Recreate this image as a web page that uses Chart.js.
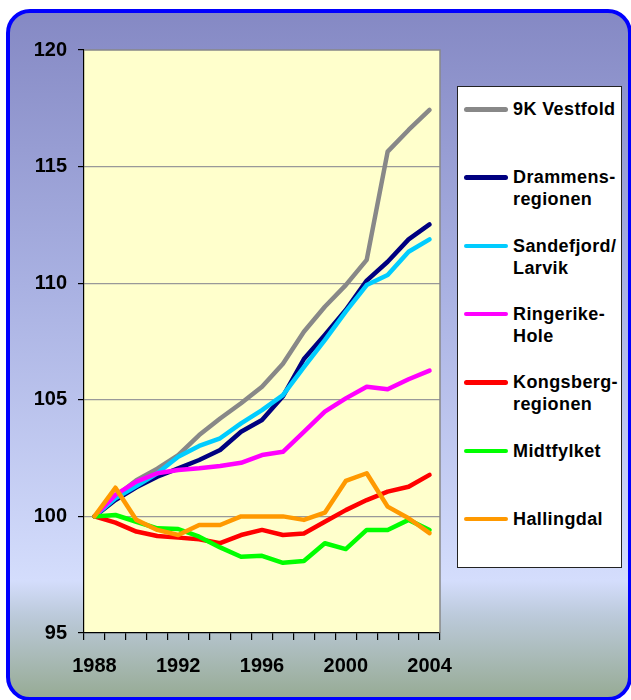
<!DOCTYPE html>
<html>
<head>
<meta charset="utf-8">
<script src="https://cdn.jsdelivr.net/npm/chart.js@4/dist/chart.umd.min.js"></script>
<style>
  html, body { margin: 0; padding: 0; background: #ffffff; }
  #wrap { position: relative; width: 631px; height: 700px; overflow: hidden; }
  #frame {
    position: absolute; left: 6px; top: 9px; width: 618px; height: 684px;
    border: 4px solid #0000ff; border-radius: 24px;
    background: linear-gradient(to bottom, #8589c4 0%, #a9b1e2 40%, #d4ddfc 83%, #bccadb 88%, #97ab95 100%);
  }
  #c { position: absolute; left: 0; top: 0; }
  #legend {
    position: absolute; left: 457px; top: 86px; width: 163px; height: 480px;
    background: #ffffff; border: 1.5px solid #222222; box-sizing: content-box;
    font-family: "Liberation Sans", Arial, sans-serif; font-weight: bold; font-size: 18px;
    letter-spacing: 0.4px; color: #000;
  }
  .item { position: absolute; left: 0; width: 163px; height: 44px; }
  .swatch { position: absolute; left: 6px; top: 9px; width: 44px; height: 4.5px; border-radius: 3px; }
  .lbl { position: absolute; left: 55px; top: 0; line-height: 22px; white-space: pre; }
</style>
</head>
<body>
<div id="wrap">
  <div id="frame"></div>
  <canvas id="c" width="631" height="700"></canvas>
  <div id="legend"></div>
</div>
<script>
// ---- data ----
const years = ['1988','1989','1990','1991','1992','1993','1994','1995','1996','1997','1998','1999','2000','2001','2002','2003','2004'];
const xTickLabels = ['1988','1992','1996','2000','2004'];
const yTicks = [95, 100, 105, 110, 115, 120];

const seriesNames = ['9K Vestfold', 'Drammens-\nregionen', 'Sandefjord/\nLarvik', 'Ringerike-\nHole', 'Kongsberg-\nregionen', 'Midtfylket', 'Hallingdal'];
const seriesColors = ['#888888', '#000080', '#00ccff', '#ff00ff', '#ff0000', '#00ff00', '#ff9900'];

const vestfold9K   = [100, 100.85, 101.55, 102.05, 102.63, 103.49, 104.20, 104.85, 105.56, 106.55, 107.92, 108.99, 109.92, 111.00, 115.64, 116.57, 117.43];
const drammens     = [100, 100.70, 101.25, 101.70, 102.06, 102.42, 102.85, 103.63, 104.13, 105.15, 106.75, 107.78, 108.85, 110.11, 110.92, 111.88, 112.52];
const sandefjord   = [100, 100.78, 101.30, 101.85, 102.56, 103.02, 103.35, 103.99, 104.56, 105.20, 106.40, 107.56, 108.78, 109.92, 110.35, 111.35, 111.88];
const ringerike    = [100, 100.92, 101.49, 101.85, 101.99, 102.06, 102.16, 102.30, 102.63, 102.77, 103.62, 104.49, 105.06, 105.56, 105.45, 105.88, 106.25];
const kongsberg    = [100, 99.73, 99.35, 99.16, 99.09, 99.02, 98.85, 99.20, 99.42, 99.20, 99.27, 99.77, 100.27, 100.70, 101.06, 101.27, 101.78];
const midtfylket   = [100, 100.06, 99.77, 99.49, 99.46, 99.13, 98.67, 98.27, 98.31, 98.01, 98.09, 98.85, 98.60, 99.42, 99.42, 99.85, 99.42];
const hallingdal   = [100, 101.23, 99.85, 99.42, 99.20, 99.63, 99.63, 100.00, 100.00, 100.00, 99.85, 100.16, 101.52, 101.85, 100.42, 99.92, 99.28];

const seriesValues = [vestfold9K, drammens, sandefjord, ringerike, kongsberg, midtfylket, hallingdal];

// ---- chart ----
const FONT = '"Liberation Sans", Arial, sans-serif';

const plotBg = {
  id: 'plotBg',
  beforeDatasetsDraw(chart) {},
  beforeDraw(chart) {
    const a = chart.chartArea, ctx = chart.ctx;
    ctx.save();
    ctx.fillStyle = '#ffffcc';
    ctx.fillRect(a.left, a.top, a.right - a.left, a.bottom - a.top);
    ctx.restore();
  },
  afterDraw(chart) {
    const a = chart.chartArea, ctx = chart.ctx;
    ctx.save();
    ctx.strokeStyle = '#888888';
    ctx.lineWidth = 1.5;
    ctx.beginPath();
    ctx.moveTo(a.left, a.top);
    ctx.lineTo(a.right, a.top);
    ctx.lineTo(a.right, a.bottom);
    ctx.stroke();
    ctx.restore();
  }
};

const datasets = seriesNames.map((name, i) => ({
  label: name.replace('\n', ''),
  data: seriesValues[i],
  borderColor: seriesColors[i],
  backgroundColor: seriesColors[i],
  borderWidth: 4.5,
  pointRadius: 0,
  tension: 0,
  fill: false,
  borderCapStyle: 'round',
  borderJoinStyle: 'round',
  order: seriesNames.length - i
}));

new Chart(document.getElementById('c'), {
  type: 'line',
  data: { labels: years, datasets },
  plugins: [plotBg],
  options: {
    responsive: false,
    animation: false,
    layout: { padding: { left: 0, right: 191, top: 50, bottom: 0 } },
    plugins: { legend: { display: false }, tooltip: { enabled: false } },
    scales: {
      x: {
        type: 'category',
        offset: true,
        afterFit(scale) { scale.height = 67; },
        grid: {
          offset: true,
          drawOnChartArea: false,
          drawTicks: true,
          tickLength: 7,
          tickColor: '#000000',
          lineWidth: 1.2
        },
        border: { color: '#000000', width: 1.2 },
        ticks: {
          autoSkip: false,
          maxRotation: 0,
          padding: 14,
          color: '#000000',
          font: { family: FONT, size: 20, weight: 'bold' },
          callback(v, i) { const l = years[i]; return xTickLabels.includes(l) ? l : ''; }
        }
      },
      y: {
        min: 95, max: 120,
        afterFit(scale) { scale.width = 84; },
        afterBuildTicks(scale) { scale.ticks = yTicks.map(v => ({ value: v })); },
        grid: {
          drawTicks: true,
          tickLength: 6,
          tickColor: '#000000',
          color(ctx) { const v = ctx.tick && ctx.tick.value; return (v === 95 || v === 120) ? 'rgba(0,0,0,0)' : '#999999'; },
          lineWidth: 1.2
        },
        border: { color: '#000000', width: 1.2 },
        ticks: {
          padding: 11,
          color: '#000000',
          font: { family: FONT, size: 20, weight: 'bold' }
        }
      }
    }
  }
});

// ---- legend (HTML, real text) ----
const legend = document.getElementById('legend');
seriesNames.forEach((name, i) => {
  const item = document.createElement('div');
  item.className = 'item';
  item.style.top = (11 + i * 68.3) + 'px';
  const sw = document.createElement('div');
  sw.className = 'swatch';
  sw.style.background = seriesColors[i];
  const lb = document.createElement('div');
  lb.className = 'lbl';
  lb.textContent = name;
  item.appendChild(sw);
  item.appendChild(lb);
  legend.appendChild(item);
});
</script>
</body>
</html>
